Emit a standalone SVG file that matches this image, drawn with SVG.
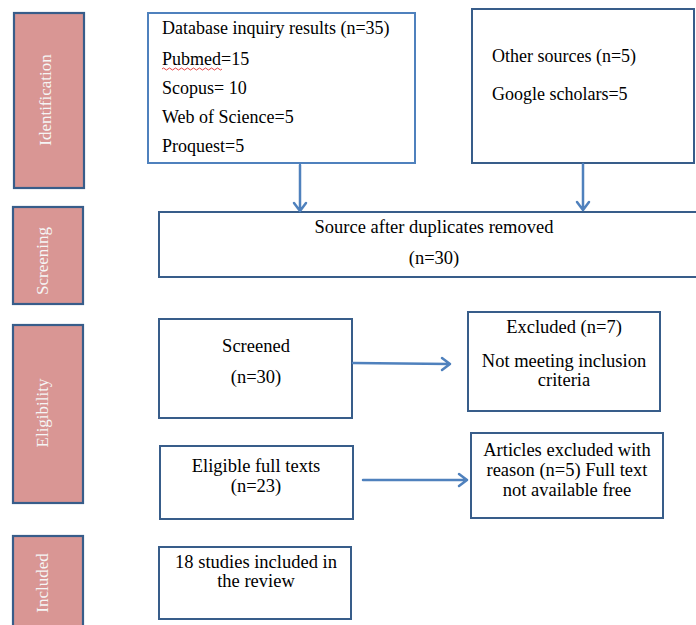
<svg xmlns="http://www.w3.org/2000/svg" width="696" height="625" viewBox="0 0 696 625">
<defs>
<style>
.stage{fill:#d99694;stroke:#385d8a;stroke-width:2.2}
.box{fill:#ffffff;stroke:#385d8a;stroke-width:2}
.box2{fill:#ffffff;stroke:#4f81bd;stroke-width:2}
.t{font-family:"Liberation Serif","Times New Roman",serif;font-size:18px;fill:#000}
.c{text-anchor:middle;font-size:18.5px}
.s{font-family:"Liberation Serif","Times New Roman",serif;font-size:17px;fill:#f5f5f5;text-anchor:middle}
.arr{fill:none;stroke:#4f81bd;stroke-width:2.5;stroke-linecap:round;stroke-linejoin:round}
</style>
</defs>
<rect width="696" height="625" fill="#ffffff"/>
<g id="stage-identification"><rect class="stage" x="14" y="13" width="70" height="175"/><text class="s" transform="translate(51,100) rotate(-90)">Identification</text></g>
<g id="stage-screening"><rect class="stage" x="13" y="207" width="70" height="97"/><text class="s" transform="translate(48,261) rotate(-90)">Screening</text></g>
<g id="stage-eligibility"><rect class="stage" x="13" y="325" width="70" height="178"/><text class="s" transform="translate(48,413) rotate(-90)">Eligibility</text></g>
<g id="stage-included"><rect class="stage" x="13" y="536" width="70" height="100"/><text class="s" transform="translate(48,583) rotate(-90)">Included</text></g>

<g id="database"><rect class="box2" x="148" y="13" width="267" height="150"/>
<text class="t" x="162" y="34">Database inquiry results (n=35)</text>
<text class="t" x="162" y="65">Pubmed=15</text>
<path d="M162,69 q1.5,-2 3,0 t3,0 t3,0 t3,0 t3,0 t3,0 t3,0 t3,0 t3,0 t3,0 t3,0 t3,0 t3,0 t3,0 t3,0 t3,0 t3,0 t3,0 t3,0 t3,0" fill="none" stroke="#e03030" stroke-width="0.9"/>
<text class="t" x="162" y="94">Scopus= 10</text>
<text class="t" x="162" y="123">Web of Science=5</text>
<text class="t" x="162" y="152">Proquest=5</text></g>

<g id="other"><rect class="box" x="472" y="9" width="222" height="154"/>
<text class="t" x="492" y="62">Other sources (n=5)</text>
<text class="t" x="492" y="100">Google scholars=5</text></g>

<g id="dedup"><rect class="box" x="159" y="212" width="545" height="65"/>
<text class="t c" x="434" y="233">Source after duplicates removed</text>
<text class="t c" x="434" y="264">(n=30)</text></g>

<g id="screened"><rect class="box" x="159" y="319" width="193" height="99"/>
<text class="t c" x="256" y="352">Screened</text>
<text class="t c" x="256" y="383">(n=30)</text></g>

<g id="excluded"><rect class="box" x="468" y="312" width="192" height="99"/>
<text class="t c" x="564" y="333">Excluded (n=7)</text>
<text class="t c" x="564" y="367">Not meeting inclusion</text>
<text class="t c" x="564" y="386">criteria</text></g>

<g id="eligible"><rect class="box" x="160" y="446" width="193" height="73"/>
<text class="t c" x="256" y="472">Eligible full texts</text>
<text class="t c" x="256" y="492">(n=23)</text></g>

<g id="articles-excluded"><rect class="box" x="471" y="433" width="192" height="85"/>
<text class="t c" x="567" y="456">Articles excluded with</text>
<text class="t c" x="567" y="476">reason (n=5) Full text</text>
<text class="t c" x="567" y="496">not available free</text></g>

<g id="included"><rect class="box" x="159" y="547" width="192" height="72"/>
<text class="t c" x="256" y="568">18 studies included in</text>
<text class="t c" x="256" y="587">the review</text></g>

<g id="connectors">
<path class="arr" d="M300,165 V211 M294,203 L300,211 L306,203"/>
<path class="arr" d="M583,164 V210 M577,202 L583,210 L589,202"/>
<path class="arr" d="M353,363 L450,364 M442,358 L450,364 L442,370"/>
<path class="arr" d="M363,480 H467 M459,474 L467,480 L459,486"/>
</g>
</svg>
